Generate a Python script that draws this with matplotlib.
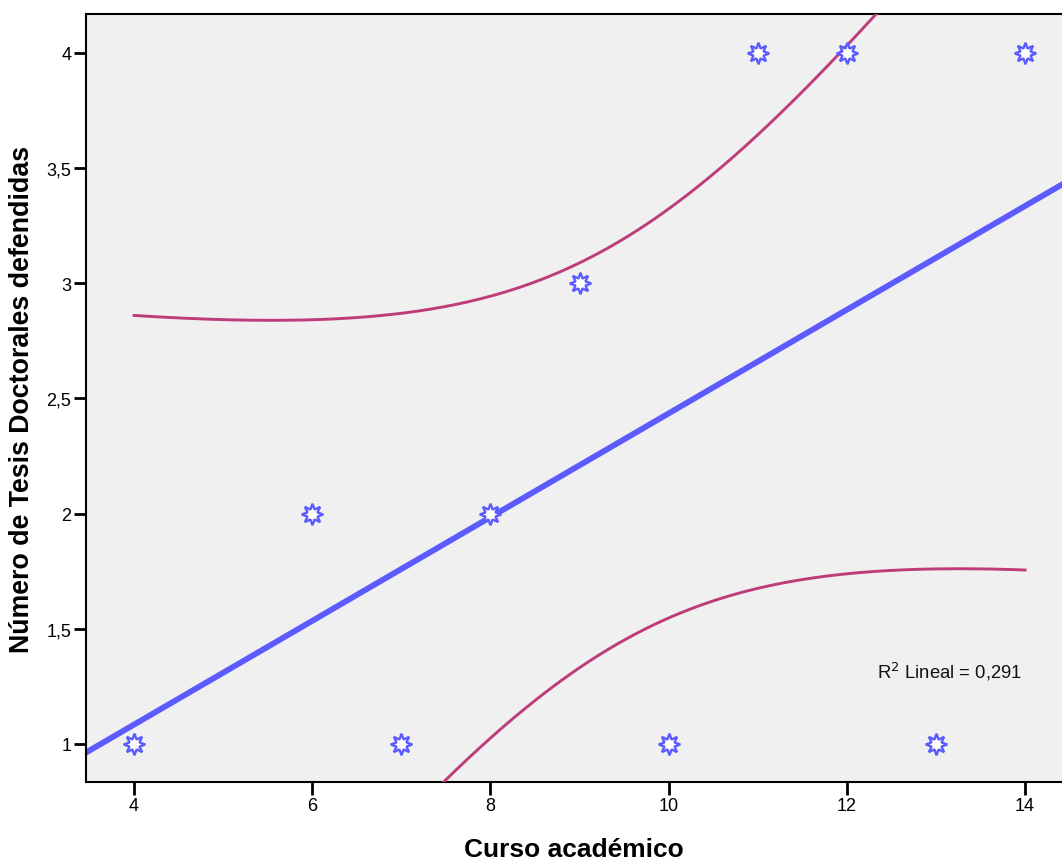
import numpy as np
import matplotlib
matplotlib.use("Agg")
import matplotlib.pyplot as plt

plt.rcParams['font.family'] = ['Liberation Sans', 'DejaVu Sans']

# Data
curso = np.array([4, 6, 7, 8, 9, 10, 11, 12, 13, 14])
tesis = np.array([1, 2, 1, 2, 3, 1, 4, 4, 1, 4])
x_ticks = [4, 6, 8, 10, 12, 14]
y_ticks = [1, 1.5, 2, 2.5, 3, 3.5, 4]
y_ticklabels = ["1", "1,5", "2", "2,5", "3", "3,5", "4"]

# Linear fit and 95% confidence interval of the mean
n = len(curso)
xm, ym = curso.mean(), tesis.mean()
sxx = np.sum((curso - xm) ** 2)
sxy = np.sum((curso - xm) * (tesis - ym))
syy = np.sum((tesis - ym) ** 2)
b = sxy / sxx
a = ym - b * xm
r2 = sxy ** 2 / (sxx * syy)
s = np.sqrt((syy - b * sxy) / (n - 2))
t = 2.306004  # t(0.975, 8)

fig = plt.figure(figsize=(10.62, 8.62), dpi=100)
ax = fig.add_axes([86 / 1062, 1 - 783 / 862, (1062 - 86) / 1062, (783 - 15) / 862])
ax.set_facecolor('#F0F0F0')

xl = np.linspace(3.0, 15.0, 200)
ax.plot(xl, a + b * xl, color='#5B5BFF', lw=4.2, zorder=2, solid_capstyle='butt')

xc = np.linspace(curso.min(), curso.max(), 300)
se = s * np.sqrt(1 / n + (xc - xm) ** 2 / sxx)
fit = a + b * xc
ax.plot(xc, fit + t * se, color='#BE3C7A', lw=2.1, zorder=3)
ax.plot(xc, fit - t * se, color='#BE3C7A', lw=2.1, zorder=3)

ax.plot(curso, tesis, linestyle='none', marker=(8, 1, 0), markersize=15.5,
        markerfacecolor='white', markeredgecolor='#5B5BFF', markeredgewidth=1.7, zorder=4)

ax.text(12.34, 1.29, "R$^2$ Lineal = %s" % ("%.3f" % r2).replace('.', ','),
        fontsize=13.3, color='#111111', ha='left', va='baseline')

ax.set_xlim(3.46, 14.415)
ax.set_ylim(0.835, 4.169)
ax.set_xticks(x_ticks)
ax.set_xticklabels([str(v) for v in x_ticks])
ax.set_yticks(y_ticks)
ax.set_yticklabels(y_ticklabels)
ax.tick_params(axis='both', direction='out', length=9, width=2, labelsize=13, pad=1.5)
for sp in ax.spines.values():
    sp.set_linewidth(1.5)
ax.spines['right'].set_visible(False)

ax.set_xlabel("Curso académico", fontsize=19, fontweight='bold', labelpad=17)
ax.set_ylabel("Número de Tesis Doctorales defendidas", fontsize=19.3, fontweight='bold', labelpad=8)

fig.savefig("out.png", dpi=100)
